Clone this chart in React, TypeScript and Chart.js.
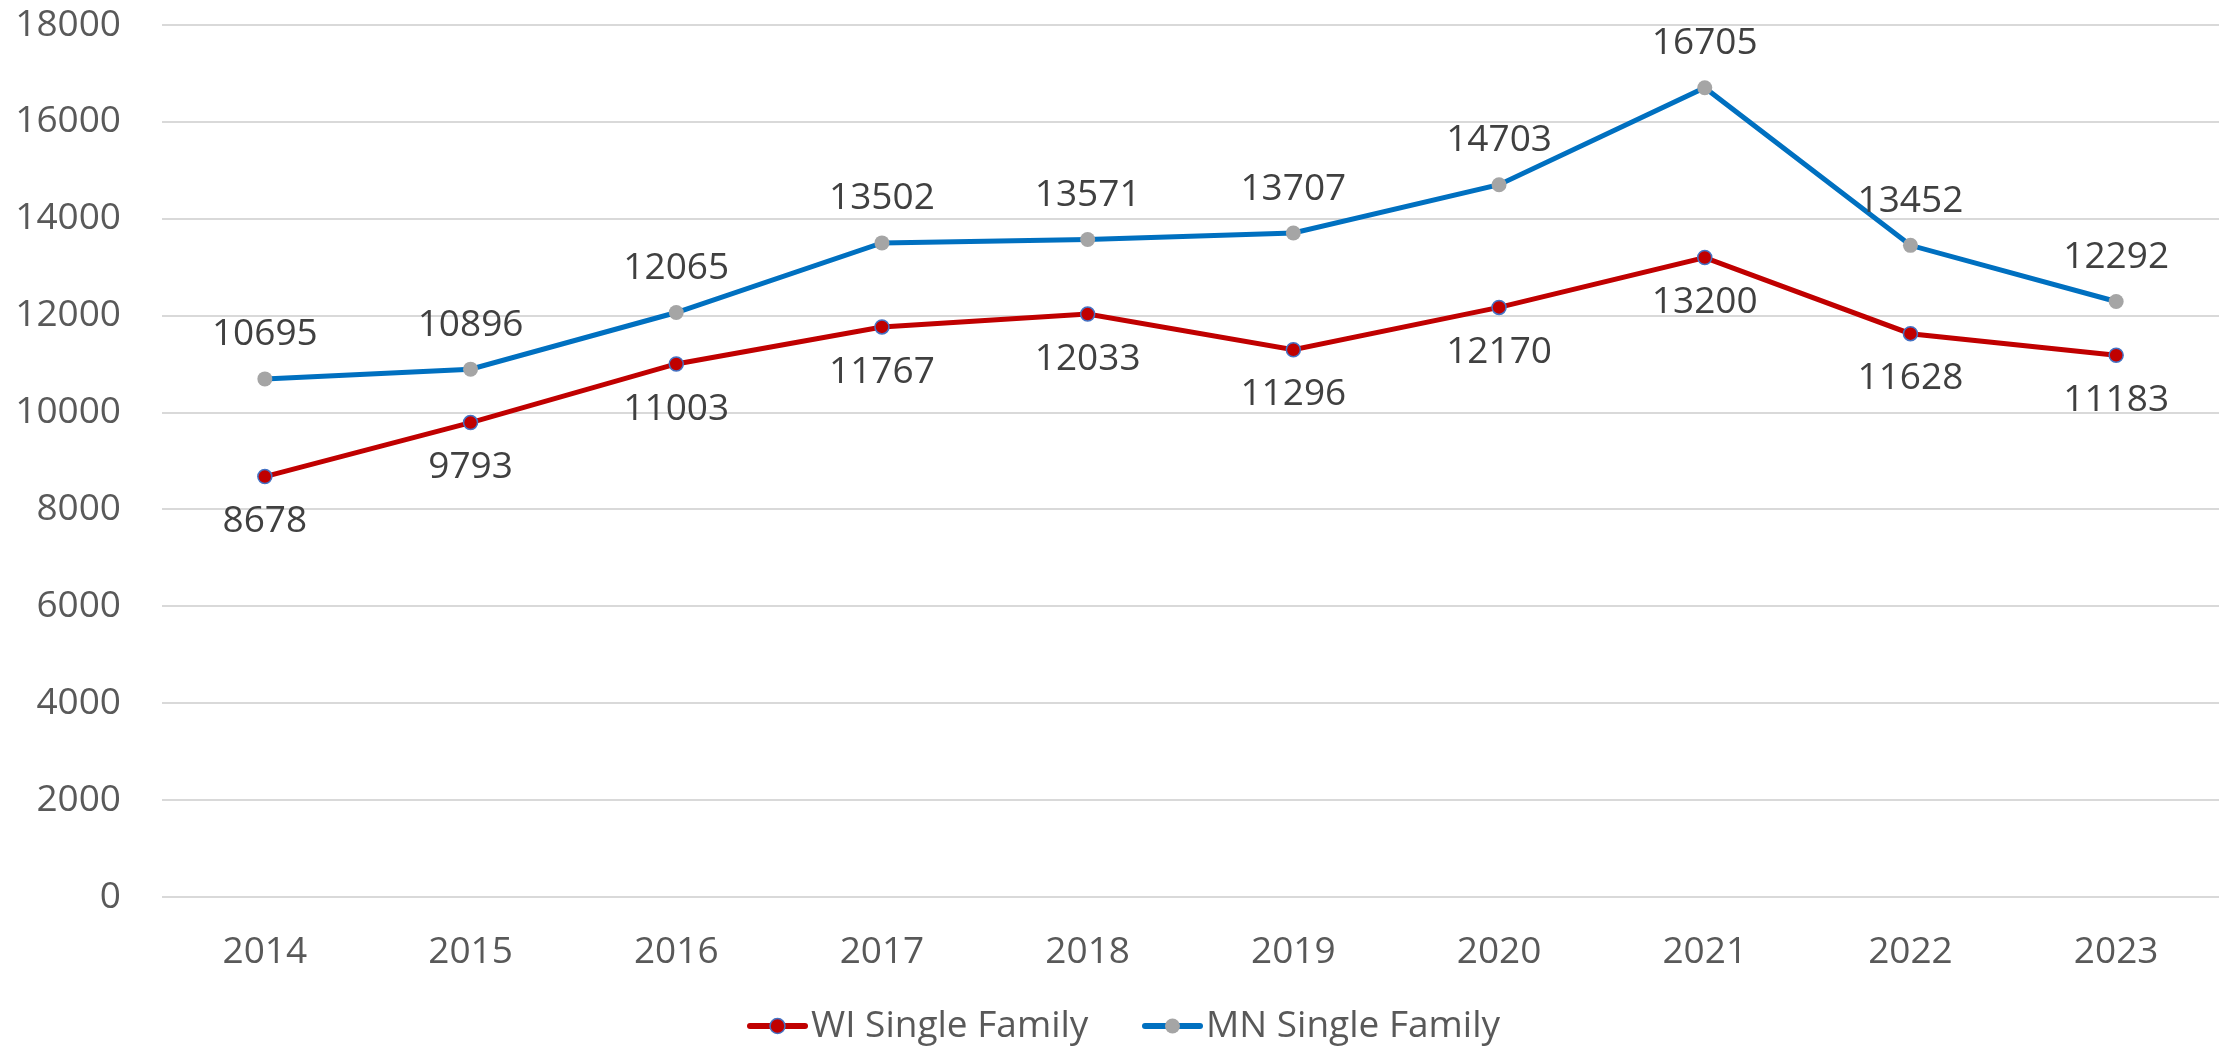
import React, { useEffect, useRef } from "react";
import { Chart, registerables } from "chart.js";

Chart.register(...registerables);

const years = ["2014", "2015", "2016", "2017", "2018", "2019", "2020", "2021", "2022", "2023"];
const wiSingleFamily = [8678, 9793, 11003, 11767, 12033, 11296, 12170, 13200, 11628, 11183];
const mnSingleFamily = [10695, 10896, 12065, 13502, 13571, 13707, 14703, 16705, 13452, 12292];
const seriesNames = ["WI Single Family", "MN Single Family"];

const FONT = "'Open Sans', 'Noto Sans', sans-serif";
const W = 2228;
const H = 1047;

const dataLabelPlugin = {
  id: "dataLabels",
  afterDatasetsDraw(chart: any) {
    const ctx = chart.ctx;
    ctx.save();
    ctx.font = `37px ${FONT}`;
    ctx.fillStyle = "#404040";
    ctx.textAlign = "center";
    ctx.textBaseline = "middle";
    chart.data.datasets.forEach((ds: any, di: number) => {
      const meta = chart.getDatasetMeta(di);
      meta.data.forEach((pt: any, i: number) => {
        const above = di === 1;
        const y = above ? pt.y - 44 : pt.y + 45;
        ctx.fillText(String(ds.data[i]), pt.x, y);
      });
    });
    ctx.restore();
  },
};

const legendPlugin = {
  id: "customLegend",
  afterDraw(chart: any) {
    const ctx = chart.ctx;
    ctx.save();
    ctx.font = `37px ${FONT}`;
    ctx.textBaseline = "middle";
    ctx.textAlign = "left";
    const y = 1026;
    const items = [
      { x: 750, ds: chart.data.datasets[0] },
      { x: 1145, ds: chart.data.datasets[1] },
    ];
    items.forEach(({ x, ds }) => {
      ctx.strokeStyle = ds.borderColor;
      ctx.lineWidth = 6;
      ctx.lineCap = "round";
      ctx.beginPath();
      ctx.moveTo(x, y);
      ctx.lineTo(x + 55, y);
      ctx.stroke();
      ctx.beginPath();
      ctx.arc(x + 27.5, y, 7.5, 0, Math.PI * 2);
      ctx.fillStyle = ds.pointBackgroundColor;
      ctx.fill();
      if (ds.pointBorderWidth > 0) {
        ctx.lineWidth = 1.5;
        ctx.strokeStyle = ds.pointBorderColor;
        ctx.stroke();
      }
      ctx.fillStyle = "#595959";
      ctx.fillText(ds.label, x + 61, y);
    });
    ctx.restore();
  },
};

export default function App() {
  const ref = useRef<HTMLCanvasElement | null>(null);

  useEffect(() => {
    document.body.style.margin = "0";
    document.body.style.overflow = "hidden";
    const canvas = ref.current!;
    const chart = new Chart(canvas, {
      type: "line",
      data: {
        labels: years,
        datasets: [
          {
            label: seriesNames[0],
            data: wiSingleFamily,
            borderColor: "#C00000",
            backgroundColor: "#C00000",
            borderWidth: 5,
            pointRadius: 7,
            pointBackgroundColor: "#C00000",
            pointBorderColor: "#4472C4",
            pointBorderWidth: 1.5,
            tension: 0,
          },
          {
            label: seriesNames[1],
            data: mnSingleFamily,
            borderColor: "#0070C0",
            backgroundColor: "#0070C0",
            borderWidth: 5,
            pointRadius: 7.5,
            pointBackgroundColor: "#A5A5A5",
            pointBorderColor: "#A5A5A5",
            pointBorderWidth: 0,
            tension: 0,
          },
        ],
      },
      options: {
        responsive: false,
        animation: false,
        layout: { padding: { top: 25, right: 9, left: 0, bottom: 0 } },
        plugins: {
          legend: { display: false },
          tooltip: { enabled: false },
        },
        scales: {
          x: {
            offset: true,
            grid: { display: false, drawTicks: false },
            border: { display: false },
            ticks: {
              color: "#595959",
              font: { family: FONT, size: 37 },
              padding: 33,
              maxRotation: 0,
            },
            afterFit(scale: any) {
              scale.height = H - 897;
              scale.paddingLeft = 0;
              scale.paddingRight = 0;
            },
          },
          y: {
            min: 0,
            max: 18000,
            grid: { color: "#D9D9D9", lineWidth: 2, drawTicks: false },
            border: { display: false },
            ticks: {
              stepSize: 2000,
              color: "#595959",
              font: { family: FONT, size: 37 },
              padding: 41,
              callback: (v: any) => String(v),
            },
            afterFit(scale: any) {
              scale.width = 162;
              scale.paddingTop = 0;
              scale.paddingBottom = 0;
            },
          },
        },
      },
      plugins: [dataLabelPlugin, legendPlugin],
    });
    return () => chart.destroy();
  }, []);

  return <canvas ref={ref} width={W} height={H} style={{ display: "block" }} />;
}
